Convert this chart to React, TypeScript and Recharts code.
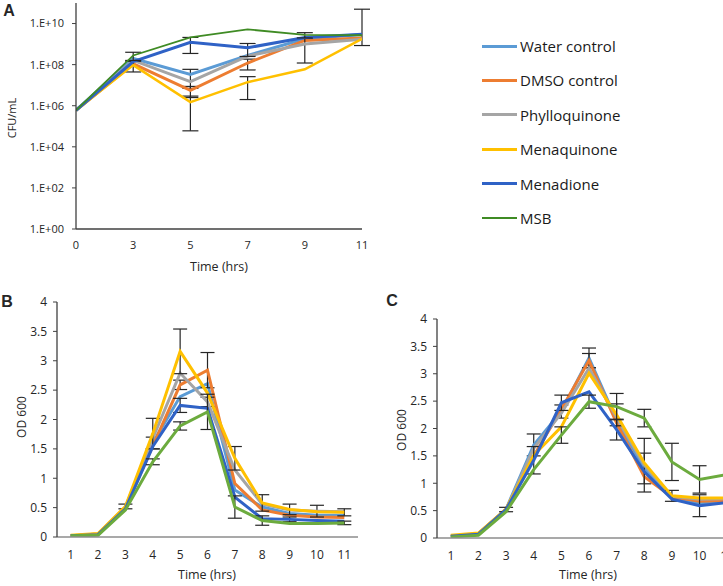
import React from 'react';
import { LineChart, Line, XAxis, YAxis, ErrorBar } from 'recharts';

// ---- Series definitions ----
const seriesNames = ['Water control', 'DMSO control', 'Phylloquinone', 'Menaquinone', 'Menadione', 'MSB'];
const seriesKeys = ['water', 'dmso', 'phyllo', 'menaq', 'menadione', 'msb'];
const seriesColors = ['#5B9BD5', '#ED7D31', '#A5A5A5', '#FFC000', '#2F62C6', '#6CAB3E'];
const colorsA = ['#5B9BD5', '#ED7D31', '#A5A5A5', '#FFC000', '#2F62C6', '#3F8B24'];
const widthsA = [3, 3, 3, 2.5, 3, 1.8];

// ---- Panel A: CFU/mL (log scale) ----
const timesA = ['0', '3', '5', '7', '9', '11'];
const cfuWater = [6e5, 2.0e8, 3.3e7, 2.8e8, 1.8e9, 2.9e9];
const cfuDmso = [6e5, 1.1e8, 5.6e6, 1.2e8, 1.5e9, 2.0e9];
const cfuPhyllo = [6e5, 1.6e8, 1.5e7, 2.6e8, 1.0e9, 1.7e9];
const cfuMenaq = [6e5, 9.5e7, 1.5e6, 1.4e7, 5.9e7, 1.8e9];
const cfuMenadione = [6e5, 1.4e8, 1.23e9, 6.6e8, 2.1e9, 3.0e9];
const cfuMsb = [6e5, 2.8e8, 2.1e9, 5.2e9, 2.8e9, 2.7e9];

const errWaterA = [null, null, 2.6e7, null, null, [2.05e9, 4.7e10]];
const errDmsoA = [null, null, 3.1e6, 6.5e7, null, null];
const errPhylloA = [null, null, null, null, 8.8e8, null];
const errMenaqA = [null, 5.1e7, 1.44e6, 1.2e7, null, null];
const errMenadioneA = [null, null, 8.8e8, 4.1e8, null, null];
const errMsbA = [null, 1.2e8, null, null, 8e8, null];
const yTicksA = [1, 1e2, 1e4, 1e6, 1e8, 1e10];

// ---- Panel B: OD 600 ----
const timesBC = [1, 2, 3, 4, 5, 6, 7, 8, 9, 10, 11];
const odWaterB = [0.02, 0.04, 0.5, 1.6, 2.39, 2.61, 0.8, 0.51, 0.4, 0.37, 0.37];
const odDmsoB = [0.02, 0.05, 0.5, 1.55, 2.59, 2.84, 0.91, 0.46, 0.37, 0.34, 0.33];
const odPhylloB = [0.02, 0.05, 0.51, 1.68, 2.79, 2.3, 1.14, 0.56, 0.46, 0.44, 0.43];
const odMenaqB = [0.03, 0.06, 0.52, 1.76, 3.16, 2.45, 1.34, 0.58, 0.47, 0.43, 0.42];
const odMenadioneB = [0.02, 0.04, 0.48, 1.54, 2.24, 2.19, 0.68, 0.31, 0.3, 0.28, 0.27];
const odMsbB = [0.02, 0.03, 0.46, 1.28, 1.89, 2.13, 0.51, 0.28, 0.23, 0.23, 0.24];

const errWaterB = [null, null, null, 0.1, null, null, null, null, null, null, null];
const errDmsoB = [null, null, null, null, 0.08, 0.3, null, null, null, null, null];
const errPhylloB = [null, null, null, null, null, 0.08, null, null, null, 0.1, null];
const errMenaqB = [null, null, 0.04, 0.26, 0.38, null, 0.2, 0.14, 0.09, null, 0.06];
const errMenadioneB = [null, null, null, null, 0.12, null, null, null, 0.04, null, null];
const errMsbB = [null, null, null, 0.05, 0.07, 0.3, 0.19, 0.08, null, null, 0.03];

// ---- Panel C: OD 600 ----
const odWaterC = [0.03, 0.08, 0.53, 1.7, 2.31, 3.29, 2.15, 1.27, 0.73, 0.63, 0.67];
const odDmsoC = [0.03, 0.08, 0.52, 1.5, 2.35, 3.24, 2.1, 1.12, 0.75, 0.67, 0.69];
const odPhylloC = [0.03, 0.08, 0.52, 1.64, 2.28, 3.1, 2.2, 1.33, 0.76, 0.71, 0.72];
const odMenaqC = [0.05, 0.09, 0.53, 1.51, 2.03, 3.01, 2.25, 1.37, 0.77, 0.73, 0.73];
const odMenadioneC = [0.03, 0.07, 0.52, 1.42, 2.47, 2.67, 1.98, 1.21, 0.71, 0.59, 0.65];
const odMsbC = [0.02, 0.05, 0.48, 1.25, 1.88, 2.49, 2.4, 2.19, 1.39, 1.07, 1.16];

const errWaterC = [null, null, null, 0.2, 0.12, 0.18, null, 0.28, null, null, null];
const errDmsoC = [null, null, null, null, null, 0.13, null, null, null, null, null];
const errPhylloC = [null, null, null, null, null, null, null, 0.49, null, null, null];
const errMenaqC = [null, null, null, null, null, null, 0.2, null, 0.1, null, null];
const errMenadioneC = [null, null, 0.04, 0.25, 0.14, null, 0.19, null, null, 0.2, null];
const errMsbC = [null, null, null, null, 0.15, 0.12, 0.24, 0.16, 0.34, 0.25, null];

const yTicksBC = [0, 0.5, 1, 1.5, 2, 2.5, 3, 3.5, 4];

function buildRows(xs: any[], vals: number[][], errs: any[][]) {
  return xs.map((x, i) => {
    const row: any = { x };
    seriesKeys.forEach((k, s) => {
      row[k] = vals[s][i];
      row[k + '_err'] = errs[s][i];
    });
    return row;
  });
}

const dataA = buildRows(
  timesA.map((_, i) => i),
  [cfuWater, cfuDmso, cfuPhyllo, cfuMenaq, cfuMenadione, cfuMsb],
  [errWaterA, errDmsoA, errPhylloA, errMenaqA, errMenadioneA, errMsbA]
);
const dataB = buildRows(
  timesBC,
  [odWaterB, odDmsoB, odPhylloB, odMenaqB, odMenadioneB, odMsbB],
  [errWaterB, errDmsoB, errPhylloB, errMenaqB, errMenadioneB, errMsbB]
);
const dataC = buildRows(
  timesBC,
  [odWaterC, odDmsoC, odPhylloC, odMenaqC, odMenadioneC, odMsbC],
  [errWaterC, errDmsoC, errPhylloC, errMenaqC, errMenadioneC, errMsbC]
);

const FONT = '"Open Sans", "Noto Sans", sans-serif';
const TEXT = '#262626';
const AXIS = '#404040';
const AXIS_LIGHT = '#8c8c8c';
const ERR = '#262626';

const fmtLog = (v: number) => {
  const e = Math.round(Math.log10(v));
  return '1.E+' + String(e).padStart(2, '0');
};

const T = ({ x, y, size, bold, rotate, children }: any) => (
  <div
    style={{
      position: 'absolute',
      left: x,
      top: y,
      transform: `translate(-50%,-50%)${rotate ? ' rotate(-90deg)' : ''}`,
      fontSize: size,
      fontWeight: bold ? 700 : 400,
      fontFamily: bold ? '"Liberation Sans", Arial, sans-serif' : FONT,
      whiteSpace: 'nowrap',
      lineHeight: 1,
      color: TEXT,
    }}
  >
    {children}
  </div>
);

function renderLines(colors: string[], widths: number[], capWidth: number) {
  return seriesKeys.map((k, s) => (
    <Line
      key={k}
      type="linear"
      dataKey={k}
      name={seriesNames[s]}
      stroke={colors[s]}
      strokeWidth={widths[s]}
      dot={false}
      activeDot={false}
      isAnimationActive={false}
    >
      <ErrorBar dataKey={k + '_err'} width={capWidth} stroke={ERR} strokeWidth={1.2} direction="y" />
    </Line>
  ));
}

const widthsBC = [3, 3, 3, 3, 3, 3];

export default function App() {
  return (
    <div
      style={{
        position: 'fixed',
        left: 0,
        top: 0,
        width: 723,
        height: 586,
        overflow: 'hidden',
        background: '#fff',
        fontFamily: FONT,
      }}
    >
      {/* Panel A */}
      <div style={{ position: 'absolute', left: 0, top: 0 }}>
        <LineChart width={380} height={290} data={dataA} margin={{ top: 3, right: 18, bottom: 0, left: 20 }}>
          <XAxis
            dataKey="x"
            type="number"
            domain={[0, 5]}
            ticks={[0, 1, 2, 3, 4, 5]}
            tickFormatter={(v: number) => timesA[v]}
            allowDataOverflow
            interval={0}
            height={61}
            tickLine={false}
            tickMargin={6}
            axisLine={{ stroke: AXIS, strokeWidth: 1.3 }}
            tick={{ fontSize: 11, fill: TEXT, fontFamily: FONT }}
          />
          <YAxis
            scale="log"
            type="number"
            domain={[1, 1e11]}
            ticks={yTicksA}
            allowDataOverflow
            interval={0}
            width={56}
            tickSize={4}
            tickMargin={8}
            tickFormatter={fmtLog}
            axisLine={{ stroke: AXIS, strokeWidth: 1.3 }}
            tickLine={{ stroke: AXIS }}
            tick={{ fontSize: 11, fill: TEXT, fontFamily: FONT }}
          />
          {renderLines(colorsA, widthsA, 8)}
        </LineChart>
      </div>

      {/* Panel B */}
      <div style={{ position: 'absolute', left: 0, top: 280 }}>
        <LineChart width={370} height={306} data={dataB} margin={{ top: 22, right: 12, bottom: 0, left: 10 }}>
          <XAxis
            dataKey="x"
            type="number"
            domain={[0.5, 11.5]}
            ticks={timesBC}
            allowDataOverflow
            interval={0}
            height={49}
            tickLine={false}
            tickMargin={7}
            axisLine={{ stroke: AXIS_LIGHT, strokeWidth: 1.3 }}
            tick={{ fontSize: 12, fill: TEXT, fontFamily: FONT }}
          />
          <YAxis
            type="number"
            domain={[0, 4]}
            ticks={yTicksBC}
            allowDataOverflow
            interval={0}
            width={47}
            tickSize={4}
            tickMargin={6}
            axisLine={{ stroke: AXIS, strokeWidth: 1.3 }}
            tickLine={{ stroke: AXIS }}
            tick={{ fontSize: 12, fill: TEXT, fontFamily: FONT }}
          />
          {renderLines(seriesColors, widthsBC, 7)}
        </LineChart>
      </div>

      {/* Panel C */}
      <div style={{ position: 'absolute', left: 360, top: 280 }}>
        <LineChart width={390} height={306} data={dataC} margin={{ top: 39, right: 9, bottom: 0, left: 30 }}>
          <XAxis
            dataKey="x"
            type="number"
            domain={[0.5, 11.5]}
            ticks={timesBC}
            allowDataOverflow
            interval={0}
            height={48}
            tickLine={false}
            tickMargin={7}
            axisLine={{ stroke: AXIS_LIGHT, strokeWidth: 1.3 }}
            tick={{ fontSize: 12, fill: TEXT, fontFamily: FONT }}
          />
          <YAxis
            type="number"
            domain={[0, 4]}
            ticks={yTicksBC}
            allowDataOverflow
            interval={0}
            width={47}
            tickSize={4}
            tickMargin={6}
            axisLine={{ stroke: AXIS, strokeWidth: 1.3 }}
            tickLine={{ stroke: AXIS }}
            tick={{ fontSize: 12, fill: TEXT, fontFamily: FONT }}
          />
          {renderLines(seriesColors, widthsBC, 7)}
        </LineChart>
      </div>

      {/* Titles and panel letters */}
      <T x={9} y={11} size={16} bold>A</T>
      <T x={7} y={302} size={16} bold>B</T>
      <T x={392} y={301} size={16} bold>C</T>

      <T x={11} y={118} size={11} rotate>CFU/mL</T>
      <T x={219} y={267} size={12.5}>Time (hrs)</T>

      <T x={22} y={417} size={12} rotate>OD 600</T>
      <T x={207} y={575} size={12.5}>Time (hrs)</T>

      <T x={402} y={430} size={12} rotate>OD 600</T>
      <T x={588} y={575} size={12.5}>Time (hrs)</T>

      {/* Legend */}
      {seriesNames.map((name, s) => {
        const cy = 46 + s * 34.4;
        return (
          <div key={name}>
            <div
              style={{
                position: 'absolute',
                left: 482,
                top: cy - (s === 5 ? 1 : 1.5),
                width: 35,
                height: s === 5 ? 2 : 3,
                background: colorsA[s],
              }}
            />
            <div
              style={{
                position: 'absolute',
                left: 520,
                top: cy,
                transform: 'translateY(-50%)',
                fontSize: 15,
                lineHeight: 1,
                fontFamily: FONT,
                color: '#1a1a1a',
                whiteSpace: 'nowrap',
              }}
            >
              {name}
            </div>
          </div>
        );
      })}
    </div>
  );
}
